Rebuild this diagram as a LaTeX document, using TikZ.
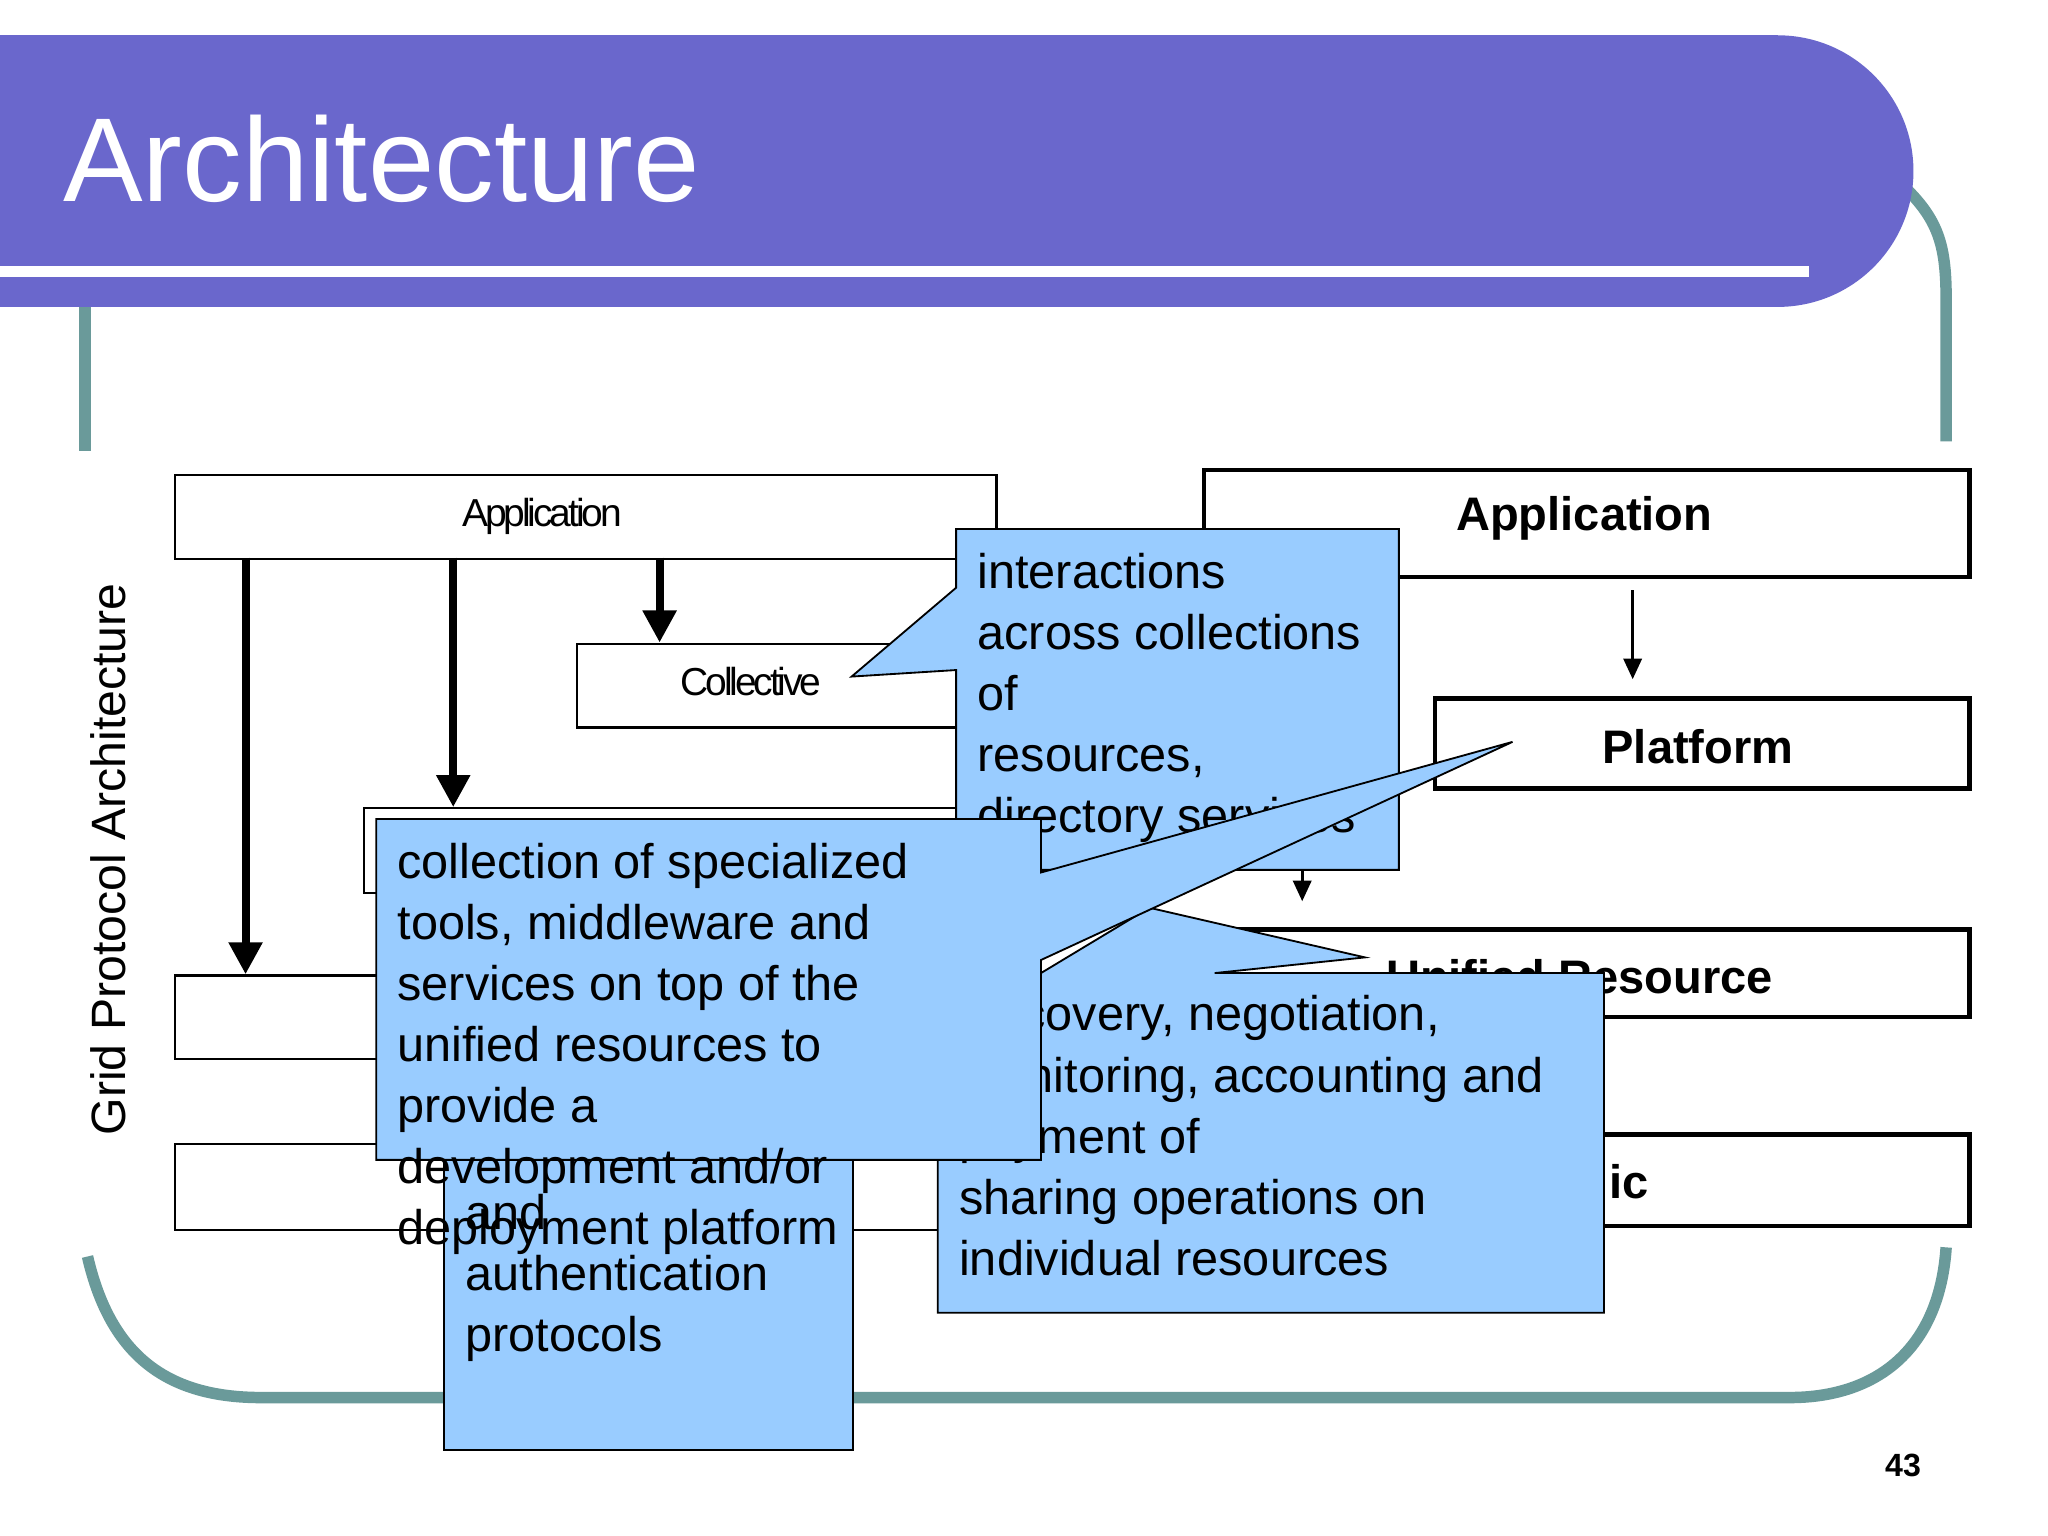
\documentclass[tikz,border=0pt]{standalone}
\usepackage{fontspec}
\setmainfont{Liberation Sans}
\begin{document}
\begin{tikzpicture}[x=0.02cm,y=-0.02cm,
  box/.style={draw=black,line width=1pt,fill=white},
  rbox/.style={draw=black,line width=2pt,fill=white},
  call/.style={draw=black,line width=0.8pt,fill=callblue},
  ctext/.style={anchor=north west,align=left,inner sep=0pt,font=\fontsize{21.2}{26.6}\selectfont},
  thick arrow/.style={line width=3.5pt,-{Triangle[length=14pt,width=14pt]}},
  thin arrow/.style={line width=1.2pt,-{Triangle[length=9pt,width=8pt]}},
  ltext/.style={font=\fontsize{17}{18}\selectfont\addfontfeatures{LetterSpace=-8}},
  rtext/.style={font=\fontsize{20.5}{22}\selectfont\bfseries}]
\usetikzlibrary{arrows.meta}
\definecolor{callblue}{HTML}{99CCFF}
\definecolor{purp}{HTML}{6A67CC}
\definecolor{teal2}{HTML}{6A9A9A}
\useasboundingbox (0,0) rectangle (1568,1176);
\fill[white] (0,0) rectangle (1568,1176);
% frame
\draw[teal2,line width=5pt] (65,230) -- (65,345);
\draw[teal2,line width=5pt] (1460,145) .. controls (1485,170) and (1490,190) .. (1490,230) -- (1490,338);
\draw[teal2,line width=5pt] (67,962) .. controls (85,1040) and (130,1070) .. (200,1070) -- (1370,1070) .. controls (1440,1070) and (1485,1030) .. (1490,955);
% title bar
\fill[purp] (0,27) rectangle (1361,235);
\fill[purp] (1361,131) circle[radius=2.08cm];
\draw[white,line width=5pt] (0,208) -- (1385,208);
\node[anchor=west,white,inner sep=0pt,font=\fontsize{52}{54}\selectfont] (title) at (48,122) {Architecture};
% left diagram
\node[box,minimum width=629*0.02cm,minimum height=64*0.02cm,anchor=north west] (lapp) at (133,363) {};
\node[ltext] (lappt) at (415,395) {Application};
\node[box,minimum width=294*0.02cm,minimum height=64*0.02cm,anchor=north west] (lcol) at (441,492) {};
\node[ltext] (lcolt) at (575,522) {Collective};
\node[box,minimum width=457*0.02cm,minimum height=65*0.02cm,anchor=north west] (lres) at (278,618) {};
\node[box,minimum width=167*0.02cm,minimum height=64*0.02cm,anchor=north west] (lcon) at (133,746) {};
\node[box,minimum width=600*0.02cm,minimum height=66*0.02cm,anchor=north west] (lfab) at (133,875) {};
\coordinate (a1s) at (188,427); \coordinate (a2s) at (347,427); \coordinate (a3s) at (505,427);
\draw[thick arrow] (a1s) -- (lcon.north west -| a1s);
\draw[thick arrow] (a2s) -- (lres.north west -| a2s);
\draw[thick arrow] (a3s) -- (lcol.north west -| a3s);
\node[rotate=90,font=\fontsize{21}{22}\selectfont] (gpa) at (83,658) {Grid Protocol Architecture};
% right diagram
\node[rbox,minimum width=586*0.02cm,minimum height=82*0.02cm,anchor=north west] (rapp) at (920,358) {};
\node[rtext] (rappt) at (1213,397) {Application};
\node[rbox,minimum width=409*0.02cm,minimum height=69*0.02cm,anchor=north west] (rplat) at (1097,533) {};
\node[rtext] (rplatt) at (1300,572) {Platform};
\node[rbox,minimum width=606*0.02cm,minimum height=67*0.02cm,anchor=north west] (runi) at (900,710) {};
\node[rtext,anchor=west] (runit) at (1055,748) {Unified Resource};
\node[rbox,minimum width=306*0.02cm,minimum height=70*0.02cm,anchor=north west] (rfab) at (1200,867) {};
\node[rtext,anchor=west] (rfabt) at (1226,905) {ic};
\coordinate (ra1) at (1250,452); \coordinate (ra1e) at (1250,520);
\draw[thin arrow] (ra1) -- (ra1e);
\coordinate (ra2) at (997,660); \coordinate (ra2e) at (997,690);
\draw[thin arrow] (ra2) -- (ra2e);
% callout 4
\filldraw[call] (340,888) rectangle (653,1110);
\node[ctext] (c4) at (356,914) {and\\authentication\\protocols};
% callout 3
\filldraw[call] (718,745) -- (797,745) -- (880,695) -- (1045,733) -- (930,745) -- (1228,745) -- (1228,1005) -- (718,1005) -- cycle;
\node[ctext] (c3) at (734,762) {discovery, negotiation,\\monitoring, accounting and\\payment of\\sharing operations on\\individual resources};
% callout 1
\filldraw[call] (732,405) -- (1071,405) -- (1071,666) -- (732,666) -- (732,513) -- (652,518) -- (732,450) -- cycle;
\node[ctext] (c1) at (748,423) {interactions\\across collections\\of\\resources,\\directory services};
% callout 2
\filldraw[call] (288,627) -- (797,627) -- (797,668) -- (1158,568) -- (797,735) -- (797,888) -- (288,888) -- cycle;
\node[ctext] (c2) at (304,645) {collection of specialized\\tools, middleware and\\services on top of the\\unified resources to\\provide a\\development and/or\\deployment platform};
% page number
\node[font=\fontsize{14}{15}\selectfont\bfseries] (pg) at (1457,1122) {43};
\end{tikzpicture}
\end{document}
